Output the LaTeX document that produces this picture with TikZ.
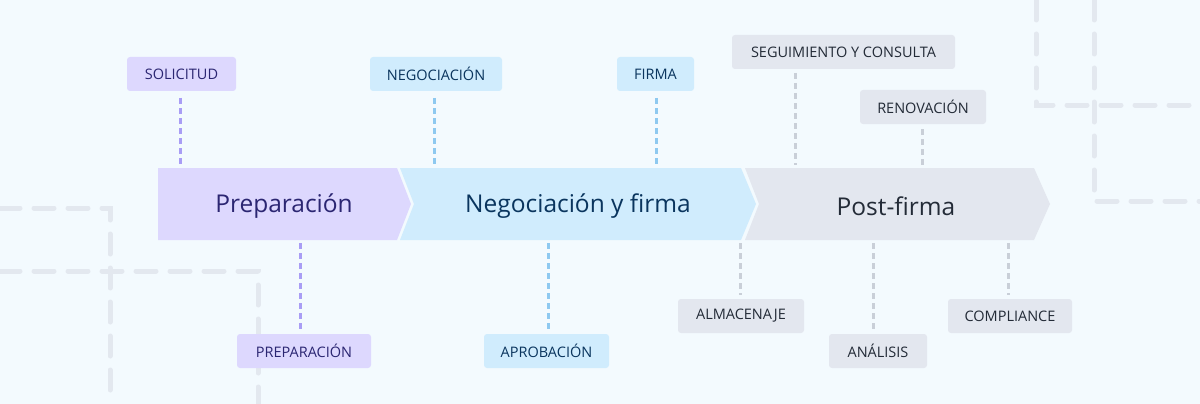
\documentclass[tikz,border=0pt]{standalone}
\usepackage{fontspec}
\setmainfont{Open Sans}
\begin{document}
\begin{tikzpicture}[x=1pt,y=-1pt,
  bg/.style={line width=5pt,draw=bgline,dash pattern=on 20pt off 14pt,line cap=round},
  lab/.style={rounded corners=3pt,minimum height=34pt,inner xsep=0pt,font=\fontsize{14.5}{15}\selectfont,anchor=center},
  conn/.style={line width=3pt,dash pattern=on 6pt off 4pt}]
\definecolor{bgc}{HTML}{F3FAFE}
\definecolor{bgline}{HTML}{E3E8EF}
\definecolor{pf}{HTML}{DDD8FE}\definecolor{pt}{HTML}{2B2672}\definecolor{pc}{HTML}{A99DF5}
\definecolor{bf}{HTML}{D0ECFD}\definecolor{bt}{HTML}{0A355E}\definecolor{bc}{HTML}{8EC9F0}
\definecolor{gf}{HTML}{E3E7EF}\definecolor{gt}{HTML}{232B37}\definecolor{gc}{HTML}{C9CFD8}
\fill[bgc] (0,0) rectangle (1200,404);
\useasboundingbox (0,0) rectangle (1200,404);
% background lines
\draw[bg] (0,208) -- (110,208) -- (110,404);
\draw[bg] (0,271) -- (258,271) -- (258,404);
\draw[bg] (1036,0) -- (1036,105) -- (1200,105);
\draw[bg] (1094,0) -- (1094,201) -- (1200,201);
% chevrons
\fill[pf] (158,168) -- (397,168) -- (411,204) -- (397,240) -- (158,240) -- cycle;
\fill[bf] (400,168) -- (741,168) -- (756,204) -- (741,240) -- (400,240) -- (414,204) -- cycle;
\fill[gf] (745,168) -- (1034,168) -- (1050,204) -- (1034,240) -- (745,240) -- (759,204) -- cycle;
\node[font=\fontsize{24.5}{25}\selectfont,text=pt] (p1) at (284,206) {Preparación};
\node[font=\fontsize{24.5}{25}\selectfont,text=bt] (p2) at (578,206) {Negociación y firma};
\node[font=\fontsize{24.5}{25}\selectfont,text=gt] (p3) at (896,206) {Post-firma};
% labels
\node[lab,fill=pf,text=pt,minimum width=109pt] (a) at (181.5,74) {SOLICITUD};
\node[lab,fill=bf,text=bt,minimum width=132pt] (b) at (436,74) {NEGOCIACIÓN};
\node[lab,fill=bf,text=bt,minimum width=77pt] (c) at (655.5,74) {FIRMA};
\node[lab,fill=gf,text=gt,minimum width=223pt] (d) at (843.5,52) {SEGUIMIENTO Y CONSULTA};
\node[lab,fill=gf,text=gt,minimum width=126pt] (e) at (923,107) {RENOVACIÓN};
\node[lab,fill=pf,text=pt,minimum width=134pt] (f) at (304,351) {PREPARACIÓN};
\node[lab,fill=bf,text=bt,minimum width=125pt] (g) at (546.5,351) {APROBACIÓN};
\node[lab,fill=gf,text=gt,minimum width=126pt] (h) at (741,316) {ALMACENAJE};
\node[lab,fill=gf,text=gt,minimum width=98pt] (i) at (878,351) {ANÁLISIS};
\node[lab,fill=gf,text=gt,minimum width=124pt] (j) at (1010,316) {COMPLIANCE};
% connectors
\coordinate (ta) at (180,165); \coordinate (tb) at (434,165); \coordinate (tc) at (656,165);
\coordinate (td) at (795,165); \coordinate (te) at (922,166);
\coordinate (tf) at (300,243); \coordinate (tg) at (548,243); \coordinate (th) at (740,243);
\coordinate (ti) at (873,243); \coordinate (tj) at (1008,243);
\draw[conn,draw=pc] (180,98) -- (ta);
\draw[conn,draw=bc] (434,98) -- (tb);
\draw[conn,draw=bc] (656,98) -- (tc);
\draw[conn,draw=gc] (795,73) -- (td);
\draw[conn,draw=gc] (922,129) -- (te);
\draw[conn,draw=pc] (tf) -- (300,330);
\draw[conn,draw=bc] (tg) -- (548,330);
\draw[conn,draw=gc] (th) -- (740,295);
\draw[conn,draw=gc] (ti) -- (873,330);
\draw[conn,draw=gc] (tj) -- (1008,295);
\end{tikzpicture}
\end{document}
